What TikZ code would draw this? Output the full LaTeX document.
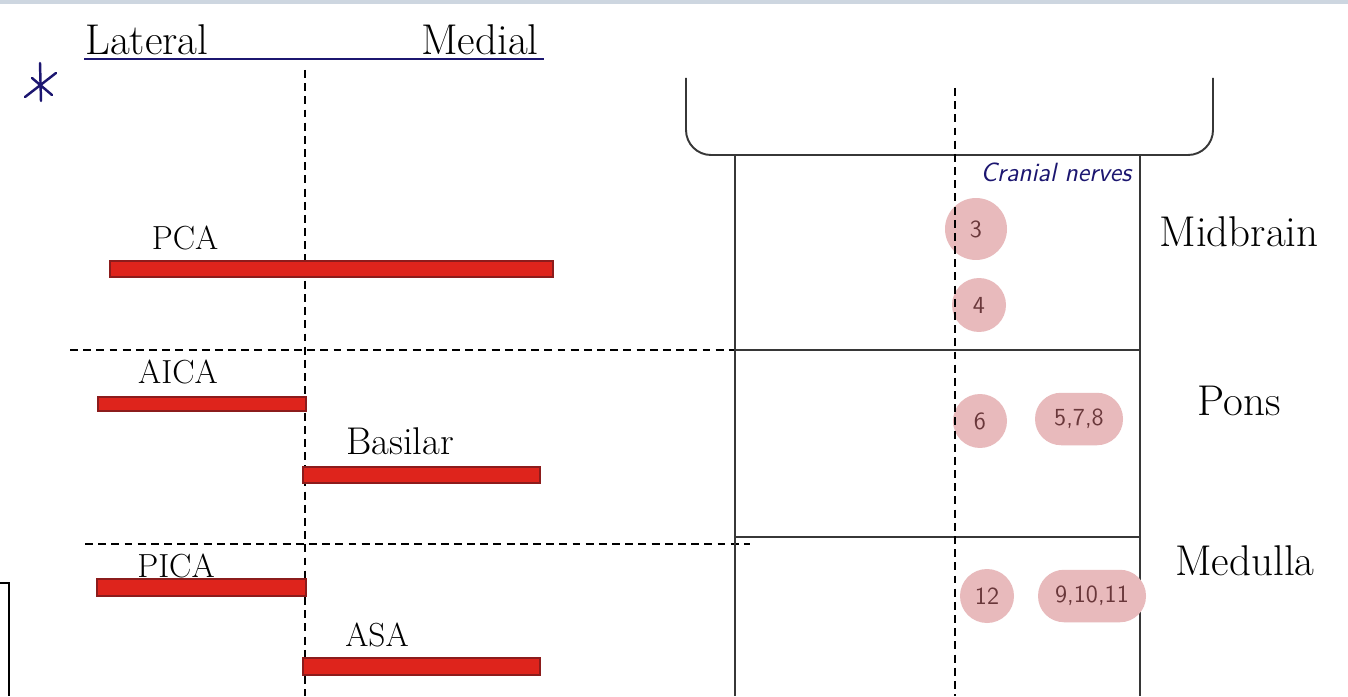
\documentclass[tikz,border=0pt]{standalone}
\usepackage{xcolor}
\usepackage{tikz}
\usetikzlibrary{calc}

\definecolor{barred}{RGB}{222,36,28}
\definecolor{bardark}{RGB}{140,28,28}
\definecolor{nervepink}{RGB}{232,186,188}
\definecolor{nervetext}{RGB}{105,55,58}
\definecolor{inknavy}{RGB}{28,22,112}
\definecolor{boxgray}{RGB}{55,55,55}
\definecolor{edgegray}{RGB}{205,214,224}

\tikzset{
  artbar/.style={fill=barred,draw=bardark,line width=0.6pt},
  artlbl/.style={font=\fontsize{19}{23}\selectfont,inner sep=0pt},
  sidelbl/.style={font=\fontsize{24.5}{28}\selectfont,inner sep=0pt},
  divline/.style={dashed,dash pattern=on 4.5pt off 3pt,line width=0.8pt},
  nervedot/.style={circle,fill=nervepink,text=nervetext,inner sep=0pt,
    font=\sffamily\fontsize{14}{16}\selectfont},
  nervepill/.style={rectangle,rounded corners=0.52cm,fill=nervepink,text=nervetext,
    inner sep=0pt,minimum height=1.05cm,font=\sffamily\fontsize{14}{16}\selectfont},
}

\begin{document}
\begin{tikzpicture}[x=0.02cm,y=-0.02cm]
  \useasboundingbox (0,0) rectangle (1348,696);
  \fill[white] (0,0) rectangle (1348,696);
  \fill[edgegray] (0,0) rectangle (1348,4);

  % header
  \node[sidelbl,anchor=base west] (lateral) at (85,55) {Lateral};
  \node[sidelbl,anchor=base east] (medial) at (539,55) {Medial};
  \draw[inknavy,line width=1.4pt] (84,59) -- (544,59);
  \draw[inknavy,line width=1.4pt,line cap=round]
    (40,63) -- (41,101) (25,97) -- (56,73) (32,78) -- (52,95);

  % lateral / medial split
  \draw[divline] (305,70) -- (305,696);
  \draw[divline] (70,350) -- (735,350);
  \draw[divline] (85,544) -- (750,544);

  % arteries
  \node[artlbl,anchor=base] (pca) at (185,249) {PCA};
  \draw[artbar] (110,261) rectangle (553,277);
  \node[artlbl,anchor=base] (aica) at (178,383) {AICA};
  \draw[artbar] (98,397) rectangle (306,411);
  \node[artlbl,anchor=base,font=\fontsize{22}{26}\selectfont] (basilar) at (400,454) {Basilar};
  \draw[artbar] (303,467) rectangle (540,483);
  \node[artlbl,anchor=base] (pica) at (176,577) {PICA};
  \draw[artbar] (97,579) rectangle (306,596);
  \node[artlbl,anchor=base] (asa) at (377,646) {ASA};
  \draw[artbar] (303,658) rectangle (540,675);

  % stray frame bottom left
  \draw[black,line width=1.6pt] (0,583) -- (9,583) -- (9,696);

  % brainstem
  \draw[boxgray,line width=1.1pt,rounded corners=0.5cm]
    (686,78) -- (686,155) -- (1213,155) -- (1213,78);
  \draw[boxgray,line width=1.1pt] (735,155) -- (735,696) (1140,155) -- (1140,696);
  \draw[boxgray,line width=1.1pt] (735,350) -- (1140,350) (735,537) -- (1140,537);

  % cranial nerve nuclei
  \node[nervedot,minimum size=1.24cm] (cn3) at (976,229) {3};
  \node[nervedot,minimum size=1.08cm] (cn4) at (979,305) {4};
  \node[nervedot,minimum size=1.08cm] (cn6) at (980,421) {6};
  \node[nervepill,minimum width=1.76cm] (cn578) at (1079,419) {5,7,8};
  \node[nervedot,minimum size=1.08cm] (cn12) at (987,596) {12};
  \node[nervepill,minimum width=2.16cm] (cn91011) at (1092,596) {9,10,11};
  \draw[divline] (955,88) -- (955,696);
  \node[inknavy,font=\sffamily\itshape\fontsize{15}{17}\selectfont,anchor=base] (cranial) at (1056,181) {Cranial nerves};

  \node[sidelbl,anchor=base] (midbrain) at (1239,246) {Midbrain};
  \node[sidelbl,anchor=base] (pons) at (1239,415) {Pons};
  \node[sidelbl,anchor=base] (medulla) at (1245,575) {Medulla};
\end{tikzpicture}
\end{document}
